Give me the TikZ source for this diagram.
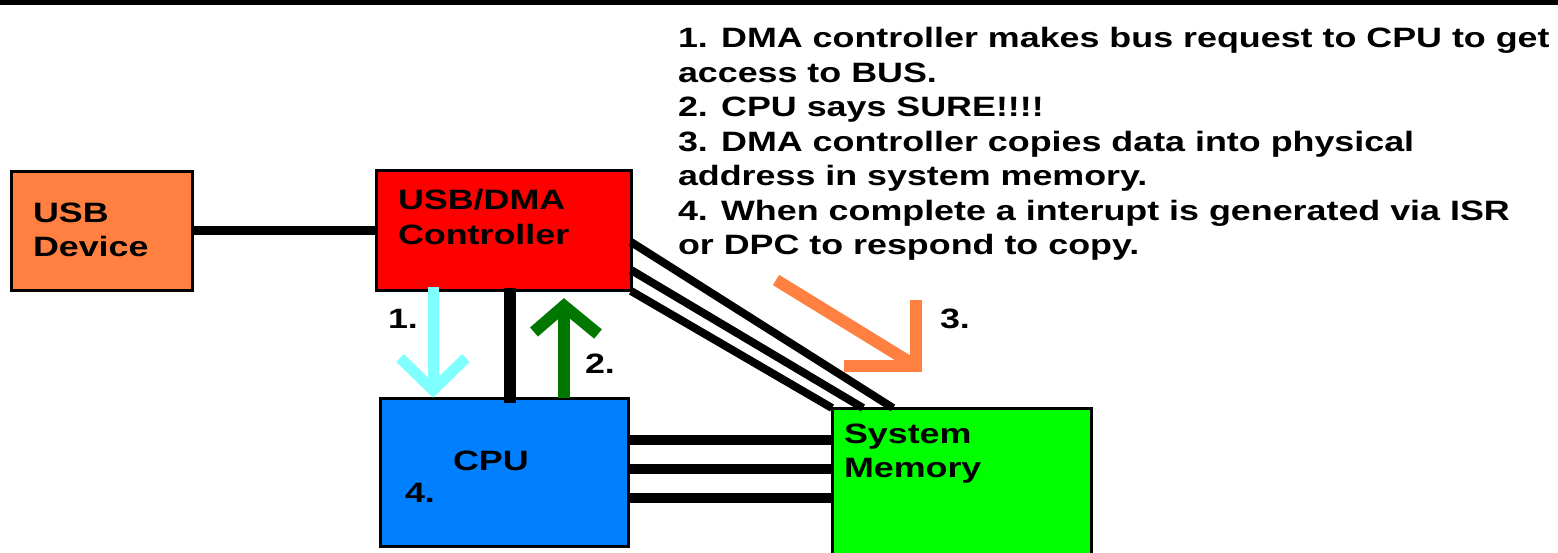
\documentclass[tikz,border=0pt]{standalone}
\usepackage{fontspec}
\newfontfamily\pix[FakeStretch=1.28]{Liberation Sans Bold}
\usetikzlibrary{calc}
\definecolor{usbor}{HTML}{FF8040}
\definecolor{ctlred}{HTML}{FF0000}
\definecolor{cpublue}{HTML}{0080FF}
\definecolor{memgreen}{HTML}{00FF00}
\definecolor{reqcyan}{HTML}{80FFFF}
\definecolor{ackgreen}{HTML}{007800}
\definecolor{copyor}{HTML}{FF8040}
\begin{document}
\begin{tikzpicture}[x=1pt,y=-1pt,
  box/.style={draw=black, line width=3pt, inner sep=0pt, outer sep=0pt},
  txt/.style={font=\pix\fontsize{28}{34}\selectfont, inner sep=0pt, outer sep=0pt, anchor=base west, text=black},
  wire/.style={draw=black, line width=9pt},
  bus/.style={draw=black, line width=10pt},
  diag/.style={draw=black, line width=8pt},
  post/.style={draw=black, line width=12pt},
  reqline/.style={draw=reqcyan, line width=11pt},
  ackline/.style={draw=ackgreen, line width=12pt},
  copyline/.style={draw=copyor, line width=12pt}]
\clip (0,0) rectangle (1558,553);
\fill[white] (0,0) rectangle (1558,553);
\fill[black] (0,-5) rectangle (1558,5);

% boxes
\node[box, fill=usbor, minimum width=181pt, minimum height=119pt] (usb) at (101.5,231) {};
\node[box, fill=ctlred, minimum width=255pt, minimum height=120pt] (ctl) at (503.5,231) {};
\node[box, fill=cpublue, minimum width=248pt, minimum height=148pt] (cpu) at (504,472) {};
\node[box, fill=memgreen, minimum width=259pt, minimum height=160pt] (mem) at (961.5,488) {};

% helper coordinates
\coordinate (xa1) at (433,0);
\coordinate (xb) at (510,0);
\coordinate (xa2) at (564,0);
\coordinate (h1) at (0,440);
\coordinate (h2) at (0,469);
\coordinate (h3) at (0,498);
\coordinate (d1s) at (0,242);
\coordinate (d1e) at (893,0);
\coordinate (d2s) at (0,270);
\coordinate (d2e) at (863,0);
\coordinate (o1) at (776,280);
\coordinate (o2) at (916,366);

% connectors
\draw[wire] (usb) -- (ctl);
\draw[bus] (cpu.east |- h1) -- (mem.west |- h1);
\draw[bus] (cpu.east |- h2) -- (mem.west |- h2);
\draw[bus] (cpu.east |- h3) -- (mem.west |- h3);
\draw[diag] (ctl.east |- d1s) -- (mem.north -| d1e);
\draw[diag] (ctl.east |- d2s) -- (mem.north -| d2e);
\draw[diag] (ctl.south east) -- (mem.north west);

% arrow 1 (request)
\draw[reqline] ($(ctl.south -| xa1)+(0,-4)$) -- ($(cpu.north -| xa1)+(0,-8)$) coordinate (t1);
\draw[reqline] ($(t1)+(-33,-32)$) -- (t1) -- ($(t1)+(33,-32)$);
% black link
\draw[post] ($(ctl.south -| xb)+(0,-3)$) -- ($(cpu.north -| xb)+(0,5)$);
% arrow 2 (grant)
\draw[ackline] (cpu.north -| xa2) -- ($(ctl.south -| xa2)+(0,15)$) coordinate (t2);
\draw[ackline] ($(t2)+(-30,26)$) -- (t2) -- ($(t2)+(34,28)$);
% arrow 3 (copy)
\draw[copyline] (o1) -- (o2);
\draw[copyline] ($(o2)+(0,-66)$) -- (o2) -- ($(o2)+(-72,0)$);

% labels
\node[txt] (usbl1) at (33,223) {USB};
\node[txt] (usbl2) at (33,257) {Device};
\node[txt] (ctll1) at (398,210) {USB/DMA};
\node[txt] (ctll2) at (398,245) {Controller};
\node[txt] (cpul) at (453,470) {CPU};
\node[txt] (meml1) at (844,443) {System};
\node[txt] (meml2) at (844,477) {Memory};
\node[txt] (n1) at (388,328) {1.};
\node[txt] (n2) at (585,373) {2.};
\node[txt] (n3) at (940,328) {3.};
\node[txt] (n4) at (405,502) {4.};

\node[txt] (l1) at (678,48) {1. DMA controller makes bus request to CPU to get};
\node[txt] (l2) at (678,82.5) {access to BUS.};
\node[txt] (l3) at (678,117) {2. CPU says SURE!!!!};
\node[txt] (l4) at (678,151.5) {3. DMA controller copies data into physical};
\node[txt] (l5) at (678,186) {address in system memory.};
\node[txt] (l6) at (678,220.5) {4. When complete a interupt is generated via ISR};
\node[txt] (l7) at (678,255) {or DPC to respond to copy.};
\end{tikzpicture}
\end{document}
